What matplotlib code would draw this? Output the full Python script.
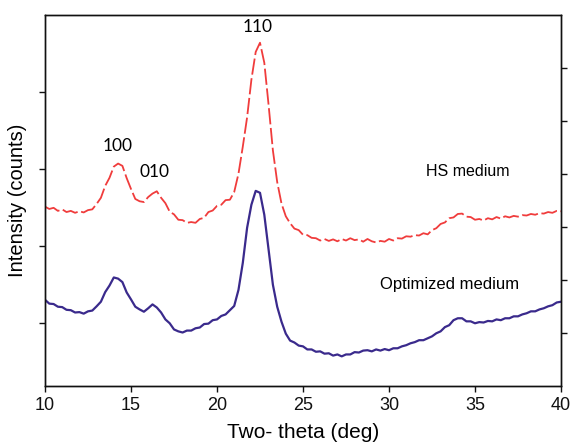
import numpy as np
import matplotlib
matplotlib.use("Agg")
import matplotlib.pyplot as plt

# scan angles (0.25 deg step) and intensities for the two cellulose samples
two_theta = np.linspace(10, 40, 121)

hs_medium = [
    2510, 2480, 2495, 2455,
    2475, 2440, 2455, 2430,
    2450, 2435, 2465, 2475,
    2545, 2625, 2780, 2885,
    3030, 3070, 3040, 2880,
    2740, 2610, 2580, 2570,
    2635, 2680, 2710, 2625,
    2555, 2445, 2410, 2340,
    2335, 2300, 2310, 2300,
    2350, 2365, 2440, 2460,
    2520, 2535, 2595, 2600,
    2700, 2940, 3290, 3670,
    4160, 4520, 4640, 4380,
    3830, 3240, 2830, 2550,
    2385, 2295, 2225, 2205,
    2145, 2140, 2105, 2100,
    2070, 2090, 2065, 2085,
    2060, 2090, 2070, 2100,
    2075, 2085, 2055, 2090,
    2060, 2045, 2065, 2055,
    2090, 2070, 2100, 2095,
    2125, 2120, 2140, 2135,
    2165, 2150, 2205, 2230,
    2285, 2305, 2360, 2370,
    2415, 2420, 2380, 2375,
    2340, 2350, 2330, 2360,
    2345, 2375, 2355, 2385,
    2370, 2390, 2380, 2400,
    2395, 2415, 2405, 2425,
    2420, 2440, 2430, 2455,
    2450,
]

optimized_medium = [
    1300, 1250, 1245, 1210,
    1205, 1170, 1165, 1135,
    1140, 1120, 1150, 1160,
    1215, 1275, 1400, 1485,
    1590, 1575, 1530, 1395,
    1305, 1210, 1175, 1145,
    1190, 1240, 1200, 1135,
    1045, 995, 915, 890,
    875, 900, 900, 930,
    940, 985, 990, 1035,
    1045, 1090, 1110, 1165,
    1220, 1430, 1780, 2235,
    2535, 2715, 2690, 2405,
    1950, 1495, 1210, 1015,
    860, 770, 745, 705,
    695, 655, 655, 625,
    630, 600, 605, 575,
    590, 565, 590, 590,
    620, 615, 640, 645,
    630, 655, 640, 660,
    645, 670, 670, 695,
    710, 735, 750, 775,
    775, 800, 825, 865,
    890, 945, 970, 1035,
    1060, 1060, 1020, 1020,
    995, 1010, 1005, 1025,
    1020, 1045, 1035, 1060,
    1060, 1085, 1085, 1110,
    1125, 1150, 1150, 1175,
    1190, 1215, 1230, 1265,
    1275,
]

x_ticks = [10, 15, 20, 25, 30, 35, 40]
left_ticks = [1000, 2000, 3000, 4000]
right_ticks = [1, 2, 3, 4, 5, 6]

plt.rcParams["font.family"] = ["Liberation Sans", "DejaVu Sans"]

fig = plt.figure(figsize=(5.7, 4.45), dpi=100)
ax = fig.add_axes([45 / 570, 1 - 386 / 445, 516 / 570, 371 / 445])

ax.plot(two_theta, hs_medium, color="#f03c3c", lw=1.3,
        linestyle=(0, (9, 2)))
ax.plot(two_theta, optimized_medium, color="#3a2a8c", lw=1.6)

ax.set_xlim(10, 40)
ax.set_ylim(180, 5000)
ax.set_xticks(x_ticks)
ax.set_xticklabels([str(t) for t in x_ticks], fontsize=13)
ax.set_yticks(left_ticks)
ax.set_yticklabels([])
ax.tick_params(direction="out", length=4, width=1, pad=4, colors="#111111")

ax2 = ax.twinx()
ax2.set_ylim(0, 7)
ax2.set_yticks(right_ticks)
ax2.set_yticklabels([])
ax2.tick_params(direction="out", length=4, width=1, colors="#111111")

for a in (ax, ax2):
    for s in a.spines.values():
        s.set_linewidth(1.0)
        s.set_color("#111111")

# peak labels
peak_font = dict(fontsize=12.5, family=["Lato", "DejaVu Sans"], ha="center", va="center")
ax.text(22.38, 4850, "110", **peak_font)
ax.text(14.24, 3300, "100", **peak_font)
ax.text(16.34, 2965, "010", **peak_font)

ax.text(34.6, 2965, "HS medium", fontsize=11.5, ha="center", va="center")
ax.text(33.55, 1495, "Optimized medium", fontsize=12, ha="center", va="center")

fig.text(18 / 570, 1 - 200 / 445, "Intensity (counts)", rotation=90,
         fontsize=14.5, ha="center", va="center")
fig.text(303 / 570, 1 - 432 / 445, "Two- theta (deg)", fontsize=15,
         ha="center", va="center")

fig.savefig("out.png", dpi=100)
